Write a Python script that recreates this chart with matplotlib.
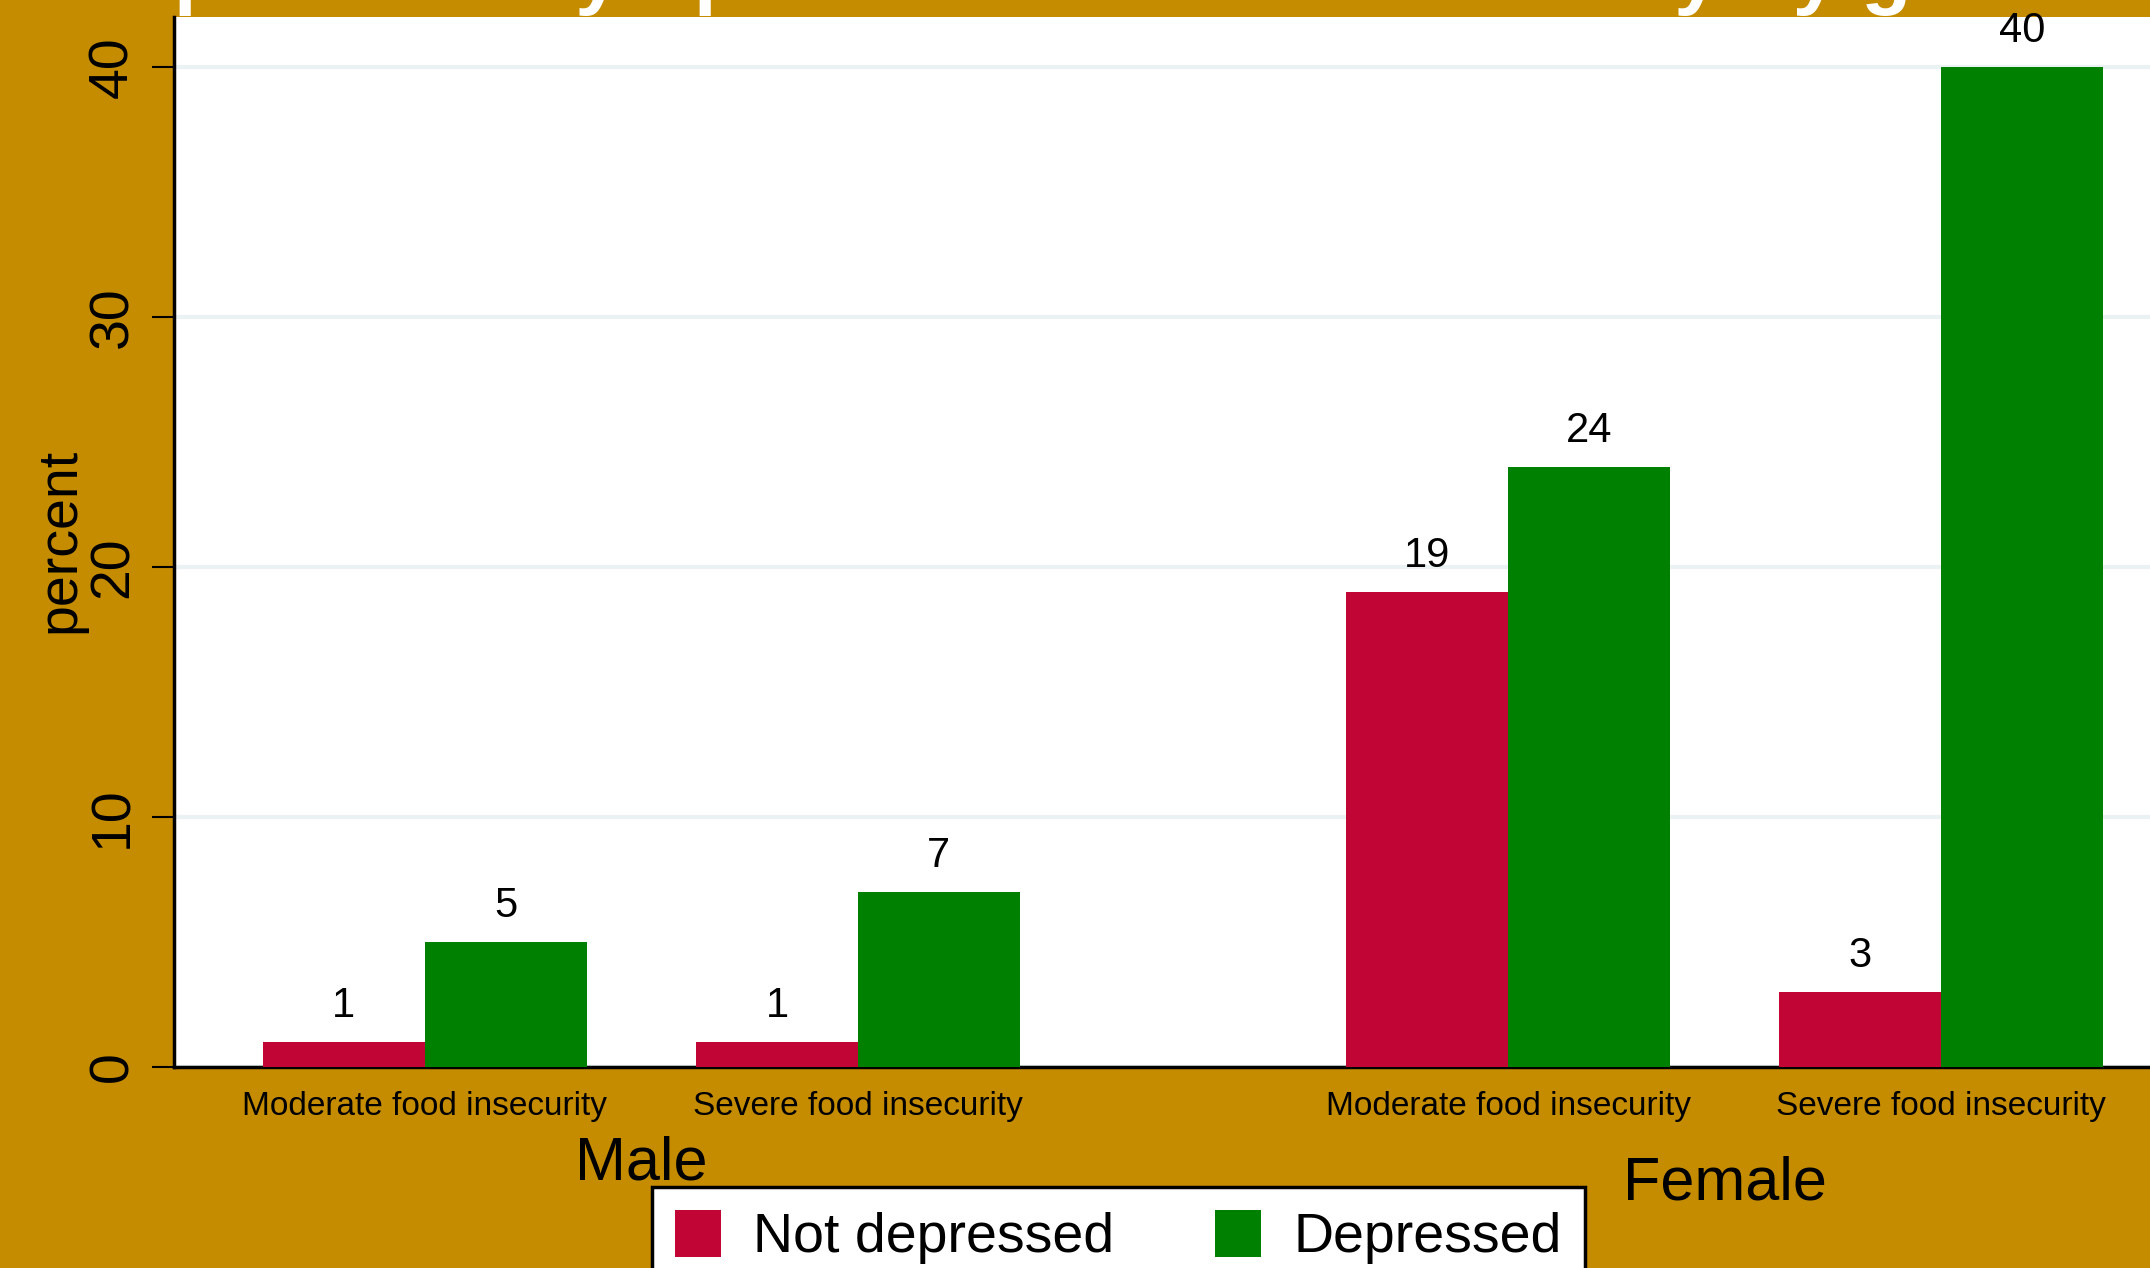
import matplotlib
matplotlib.use('Agg')
import matplotlib.pyplot as plt
from matplotlib.patches import Patch
from matplotlib.transforms import blended_transform_factory
import numpy as np

# Percent of each group by food insecurity level and gender
genders = ['Male', 'Female']
levels = ['Moderate food insecurity', 'Severe food insecurity',
          'Moderate food insecurity', 'Severe food insecurity']
not_depressed = [1, 1, 19, 3]
depressed = [5, 7, 24, 40]
yticks = [0, 10, 20, 30, 40]

gold = '#C68C00'
red = '#C10534'
green = '#008000'

plt.rcParams['font.family'] = ['Liberation Sans', 'DejaVu Sans']

fig = plt.figure(figsize=(21.5, 12.68), dpi=100, facecolor=gold)
W, H = 2150, 1268
ax = fig.add_axes([174 / W, (H - 1067) / H, (W - 174) / W, (1067 - 17) / H])
ax.set_facecolor('white')

# cluster centres, gap between the two genders is wider
centres = np.array([1.549, 4.222, 8.235, 10.907])
ax.bar(centres - 0.5, not_depressed, width=1, color=red, zorder=3)
ax.bar(centres + 0.5, depressed, width=1, color=green, zorder=3)

for x, v in zip(centres - 0.5, not_depressed):
    ax.annotate(str(v), (x, v), xytext=(0, 18), textcoords='offset points',
                ha='center', va='baseline', fontsize=30, zorder=4)
for x, v in zip(centres + 0.5, depressed):
    ax.annotate(str(v), (x, v), xytext=(0, 18), textcoords='offset points',
                ha='center', va='baseline', fontsize=30, zorder=4)

ax.set_xlim(0, 12.198)
ax.set_ylim(0, 42)

ax.set_xticks(centres)
ax.set_xticklabels(levels, fontsize=24)
ax.tick_params(axis='x', length=0, pad=17)

ax.set_yticks(yticks)
ax.set_yticklabels([str(t) for t in yticks], fontsize=40,
                   family=['Liberation Sans Narrow', 'Liberation Sans'])
ax.tick_params(axis='y', length=15.8, width=1.5, pad=9)
for lab in ax.get_yticklabels():
    lab.set_rotation(90)
    lab.set_va('center')

ax.yaxis.grid(True, color='#EAF2F3', linewidth=3, zorder=0)
ax.set_axisbelow(True)

for s in ['top', 'right']:
    ax.spines[s].set_visible(False)
for s in ['left', 'bottom']:
    ax.spines[s].set_linewidth(2.5)
    ax.spines[s].set_color('black')

ylab = ax.set_ylabel('percent', fontsize=40,
                     family=['Liberation Sans Narrow', 'Liberation Sans'])
ylab.set_va('center')
ax.yaxis.set_label_coords((60 - 174) / 1976, 0.502)

# gender names under each pair of clusters
trans = blended_transform_factory(ax.transData, ax.transAxes)
ax.text(centres[:2].mean(), -0.0925, genders[0], transform=trans,
        ha='center', va='center', fontsize=44)
ax.text(centres[2:].mean(), -0.1115, genders[1], transform=trans,
        ha='center', va='center', fontsize=44)

fig.text(0.5 + 27 / W, 1 + 1 / H,
         'Depressive symptoms and food insecurity by gender',
         ha='center', va='baseline', fontsize=59, fontweight='bold',
         color='white')

handles = [Patch(facecolor=red, edgecolor='none'),
           Patch(facecolor=green, edgecolor='none')]
leg = fig.legend(handles, ['Not depressed', 'Depressed'], ncol=2,
                 loc='upper left', bbox_to_anchor=(652 / W, (H - 1187) / H),
                 fontsize=40, frameon=True, fancybox=False, framealpha=1,
                 edgecolor='black', borderpad=0.41, handlelength=0.83,
                 handleheight=0.92, handletextpad=0.58, columnspacing=1.82,
                 borderaxespad=0)
leg.get_frame().set_linewidth(2.5)

fig.savefig('out.png', dpi=100, facecolor=gold)
